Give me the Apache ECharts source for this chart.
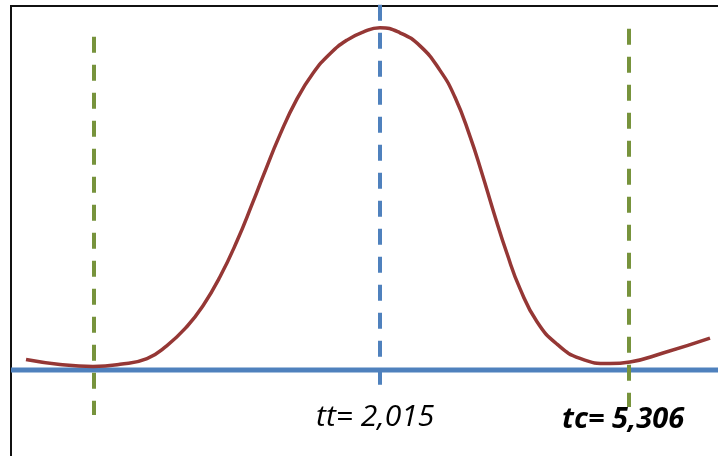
<!DOCTYPE html>
<html>
<head>
<meta charset="utf-8">
<script src="https://cdn.jsdelivr.net/npm/echarts@6/dist/echarts.min.js"></script>
<style>
  html, body { margin: 0; padding: 0; background: #fff; }
  #chart { width: 718px; height: 456px; }
</style>
</head>
<body>
<div id="chart"></div>
<script>
// 曲线采样点（横轴 t，纵轴密度）
const curveX = [-3.54, -3.20, -2.87, -2.60, -2.33, -2.13, -1.93, -1.77, -1.60, -1.43, -1.27, -1.17, -1.00,
  -0.83, -0.67, -0.50, -0.33, -0.17, 0.00, 0.20, 0.40, 0.60, 0.75, 0.90, 1.02, 1.14, 1.27, 1.40,
  1.57, 1.77, 2.00, 2.30, 2.50, 2.83, 3.30];
const curveY = [0.0122, 0.0064, 0.0041, 0.0066, 0.0133, 0.0284, 0.0505, 0.0747, 0.1083, 0.1498, 0.1953, 0.2250, 0.2735,
  0.3150, 0.3448, 0.3676, 0.3834, 0.3927, 0.3977, 0.3919, 0.3767, 0.3482, 0.3169, 0.2715, 0.2283, 0.1822, 0.1353, 0.0945,
  0.0560, 0.0300, 0.0134, 0.0074, 0.0093, 0.0197, 0.0371];

// 基线（y = 0）
const baseX = [-3.69, 3.38];

// 临界值竖线：位置和上下端
const critX = [-2.86, 2.49];
const critTop = [0.3872, 0.3965];
const critBottom = [-0.0523, -0.043];

// 中心竖线
const centerX = 0;
const centerRange = [0.4244, -0.0174];

// 文字标签
const labelTT = 'tt= 2,015';
const labelTC = 'tc= 5,306';

const chart = echarts.init(document.getElementById('chart'));

const dashed = [16, 12];

const option = {
  animation: false,
  grid: { left: 0, right: 0, top: 0, bottom: 0 },
  xAxis: { type: 'value', min: -3.8, max: 3.38, show: false },
  yAxis: { type: 'value', min: -0.1, max: 0.43, show: false },
  graphic: [
    {
      type: 'rect',
      shape: { x: 11, y: 6, width: 730, height: 470 },
      style: { fill: 'none', stroke: '#111', lineWidth: 2 },
      z: 1
    },
    {
      type: 'text',
      left: 316, top: 402,
      style: { text: labelTT, font: 'italic 30px "Open Sans"', fill: '#000' },
      z: 10
    },
    {
      type: 'text',
      left: 562, top: 405,
      style: { text: labelTC, font: 'italic bold 29px "Open Sans"', fill: '#000' },
      z: 10
    }
  ],
  series: [
    {
      type: 'line',
      data: baseX.map(x => [x, 0]),
      symbol: 'none',
      lineStyle: { color: '#4F81BD', width: 5 },
      z: 2
    },
    {
      type: 'line',
      data: curveX.map((x, i) => [x, curveY[i]]),
      smooth: 0.5,
      symbol: 'none',
      lineStyle: { color: '#953735', width: 3.5 },
      z: 3
    },
    {
      type: 'line',
      data: [[critX[0], critTop[0]], [critX[0], critBottom[0]]],
      symbol: 'none',
      lineStyle: { color: '#77933C', width: 4, type: dashed },
      z: 4
    },
    {
      type: 'line',
      data: [[critX[1], critTop[1]], [critX[1], critBottom[1]]],
      symbol: 'none',
      lineStyle: { color: '#77933C', width: 4, type: dashed },
      z: 4
    },
    {
      type: 'line',
      data: [[centerX, centerRange[0]], [centerX, centerRange[1]]],
      symbol: 'none',
      lineStyle: { color: '#4F81BD', width: 4, type: dashed },
      z: 4
    }
  ]
};

chart.setOption(option);
</script>
</body>
</html>
